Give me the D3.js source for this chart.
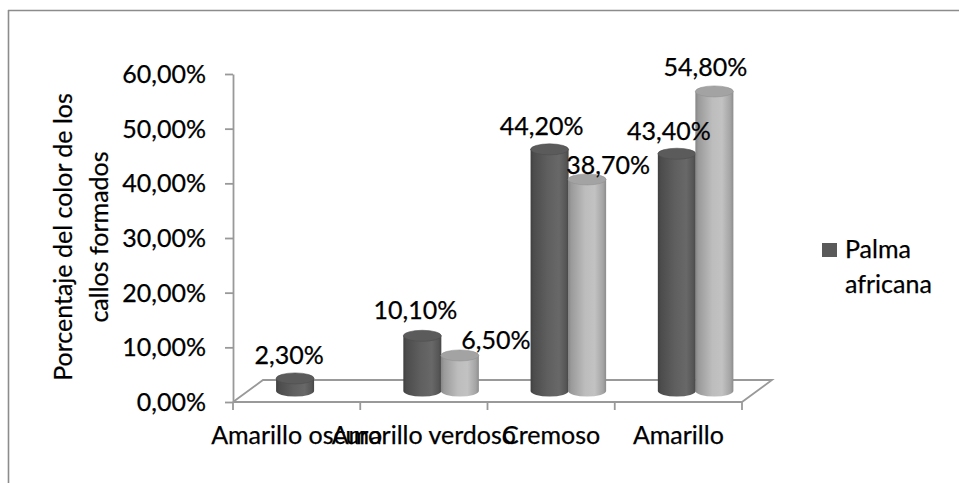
<!DOCTYPE html>
<html>
<head>
<meta charset="utf-8">
<script src="https://cdn.jsdelivr.net/npm/d3@7"></script>
<style>
  html, body { margin: 0; padding: 0; background: #fff; }
  svg { display: block; }
  text { font-family: Lato, "Open Sans", sans-serif; fill: #000; stroke: #000; stroke-width: 0.25px; }
</style>
</head>
<body>
<svg id="chart" width="959" height="483"></svg>
<script>
// Color of the calluses formed, share per category
const categories = ["Amarillo oscuro", "Amarillo verdoso", "Cremoso", "Amarillo"];
const palmaAfricana = [0.023, 0.101, 0.442, 0.434];
const segundaSerie = [null, 0.065, 0.387, 0.548];
const yTicks = [0, 0.1, 0.2, 0.3, 0.4, 0.5, 0.6];
const legendLabel = ["Palma", "africana"];
const axisTitle = ["Porcentaje del color de los", "callos formados"];

const svg = d3.select("#chart");
const W = 959, H = 483;
const FONT = 25;

const locale = d3.formatLocale({ decimal: ",", thousands: ".", grouping: [3], currency: ["", "€"], percent: "%" });
const pct = locale.format(".2%");

// plot geometry (front floor edge + depth offset of the 3D floor)
const x0 = 233, x1 = 742, yBase = 402, yTop = 74;
const depth = { dx: 30, dy: -22 };

const y = d3.scaleLinear().domain([0, 0.6]).range([yBase, yTop]);
const x = d3.scaleBand().domain(categories).range([x0, x1]).paddingInner(0).paddingOuter(0);

// outer frame
const frame = svg.append("g").attr("stroke", "#8c8c8c").attr("stroke-width", 1.6).attr("fill", "none");
frame.append("line").attr("x1", 8).attr("y1", 10.5).attr("x2", W).attr("y2", 10.5);
frame.append("line").attr("x1", 8.5).attr("y1", 10).attr("x2", 8.5).attr("y2", H);

// floor of the 3D plot
const floor = svg.append("g").attr("stroke", "#999").attr("stroke-width", 1.8).attr("fill", "none");
floor.append("path").attr("d", d3.line()([
  [x0, yBase], [x0 + depth.dx, yBase + depth.dy], [x1 + depth.dx, yBase + depth.dy], [x1, yBase]
]));

// value axis
const yAxis = svg.append("g").attr("transform", `translate(${x0},0)`)
  .call(d3.axisLeft(y).tickValues(yTicks).tickFormat(pct).tickSize(8).tickSizeOuter(0).tickPadding(19));
yAxis.select(".domain").attr("stroke", "#999").attr("stroke-width", 1.8);
yAxis.selectAll(".tick line").attr("stroke", "#999").attr("stroke-width", 1.8);
yAxis.selectAll(".tick text").attr("font-size", FONT).attr("font-family", "Lato").attr("fill", "#000").attr("dy", "0.34em");

// category axis
const xAxis = svg.append("g").attr("transform", `translate(0,${yBase})`);
xAxis.append("line").attr("x1", x0).attr("x2", x1).attr("stroke", "#999").attr("stroke-width", 1.8);
const bounds = categories.map(c => x(c)).concat([x1]);
xAxis.selectAll("line.t").data(bounds).join("line").attr("class", "t")
  .attr("x1", d => d).attr("x2", d => d).attr("y1", 0).attr("y2", 8)
  .attr("stroke", "#999").attr("stroke-width", 1.8);
xAxis.selectAll("text").data(categories).join("text")
  .attr("x", d => x(d) + x.bandwidth() / 2).attr("y", 42)
  .attr("text-anchor", "middle").attr("font-size", FONT).text(d => d);

// axis title
const title = svg.append("text").attr("transform", `translate(0,237) rotate(-90)`)
  .attr("text-anchor", "middle").attr("font-size", FONT);
title.selectAll("tspan").data(axisTitle).join("tspan")
  .attr("x", 0).attr("y", (d, i) => 72 + i * 36).text(d => d);

// gradients for the cylinder bodies
const defs = svg.append("defs");
function grad(id, stops) {
  const g = defs.append("linearGradient").attr("id", id).attr("x1", "0").attr("x2", "1").attr("y1", "0").attr("y2", "0");
  stops.forEach(s => g.append("stop").attr("offset", s[0]).attr("stop-color", s[1]));
}
grad("gDark", [[0, "#3f3f3f"], [0.08, "#4c4c4c"], [0.45, "#5f5f5f"], [0.75, "#686868"], [0.93, "#565656"], [1, "#464646"]]);
grad("gLight", [[0, "#858585"], [0.08, "#9a9a9a"], [0.45, "#bdbdbd"], [0.7, "#c2c2c2"], [0.92, "#a4a4a4"], [1, "#8c8c8c"]]);

const series = [
  { values: palmaAfricana, fill: "url(#gDark)", top: "#5b5b5b", topEdge: "#4d4d4d", offset: 0.37,
    labelShift: [[-6, 9], [-7, 11], [-8, 9], [-8, 8]] },
  { values: segundaSerie, fill: "url(#gLight)", top: "#a3a3a3", topEdge: "#929292", offset: 0.665,
    labelShift: [[0, 0], [36, 1], [21, 0], [-9, 10]] }
];

const r = 19, ry = 5.5;
const baseY = yBase + depth.dy / 2;   // bars stand at mid depth of the floor
const midShift = depth.dx / 2;

const bars = svg.append("g");
const labels = svg.append("g");
categories.forEach((c, i) => {
  series.forEach(s => {
    const v = s.values[i];
    if (v == null) return;
    const cx = x(c) + midShift + x.bandwidth() * s.offset;
    const h = yBase - y(v);
    const ty = baseY - h;
    const g = bars.append("g");
    g.append("path")
      .attr("d", `M${cx - r},${ty} L${cx - r},${baseY} A${r},${ry} 0 0 0 ${cx + r},${baseY} L${cx + r},${ty} Z`)
      .attr("fill", s.fill);
    g.append("ellipse").attr("cx", cx).attr("cy", ty).attr("rx", r).attr("ry", ry)
      .attr("fill", s.top).attr("stroke", s.topEdge).attr("stroke-width", 0.6);
    const sh = s.labelShift[i];
    labels.append("text")
      .attr("x", cx + sh[0]).attr("y", ty - ry - sh[1])
      .attr("text-anchor", "middle").attr("font-size", FONT).text(pct(v));
  });
});

// legend (single entry)
svg.append("rect").attr("x", 822).attr("y", 243).attr("width", 15).attr("height", 14).attr("fill", "#5a5a5a");
svg.append("text").attr("font-size", FONT).selectAll("tspan").data(legendLabel).join("tspan")
  .attr("x", 845).attr("y", (d, i) => 258 + i * 35).text(d => d);
</script>
</body>
</html>
